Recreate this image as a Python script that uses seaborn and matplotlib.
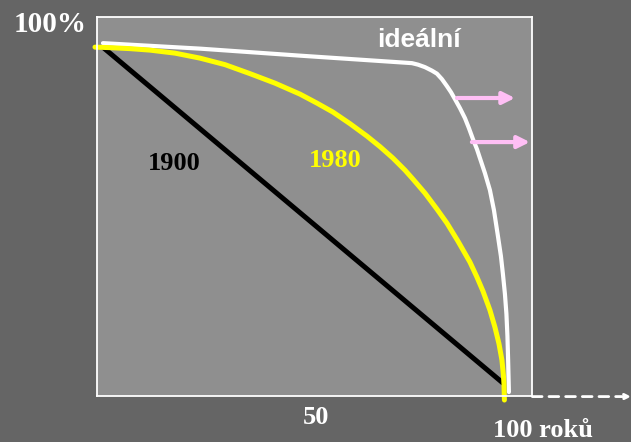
import matplotlib
matplotlib.use("Agg")
import matplotlib.pyplot as plt
import seaborn as sns

# roky a procento přežívajících
roky_1900 = [0.7, 100.0]
pct_1900 = [99.4, 0.3]

roky_1980 = [-1.24, 2.48, 7.44, 12.41, 18.61, 24.81, 31.02, 37.22, 43.42, 49.63,
             53.85, 57.82, 62.03, 66.25, 69.48, 72.70, 75.68, 77.67, 80.65, 83.62,
             86.10, 88.83, 91.81, 93.55, 95.04, 96.77, 98.01, 99.01, 99.75, 100.12,
             100.25, 100.37]
pct_1980 = [99.41, 99.26, 98.97, 98.53, 97.64, 96.17, 94.25, 91.59, 88.79, 85.55,
            82.89, 80.24, 76.84, 73.16, 70.06, 66.67, 63.13, 60.47, 56.34, 51.62,
            47.49, 42.18, 35.99, 31.56, 27.43, 21.83, 16.81, 11.95, 7.08, 2.65,
            0.29, -4.72]

roky_idealni = [0.74, 24.81, 49.63, 77.42, 78.91, 80.65, 82.38, 83.62, 84.86, 86.10,
                87.10, 88.09, 89.33, 90.57, 91.56, 92.56, 93.55, 94.29, 95.53, 96.77,
                97.77, 98.76, 99.50, 100.0, 100.50, 100.87, 101.12, 101.29, 101.49]
pct_idealni = [100.59, 98.97, 96.90, 94.69, 94.25, 93.51, 92.48, 91.59, 89.97, 87.91,
               86.14, 84.07, 81.42, 78.47, 75.52, 72.27, 69.32, 66.67, 62.24, 57.23,
               51.33, 43.66, 37.76, 32.45, 26.55, 20.65, 14.16, 7.08, -2.36]

# posun křivky doprava (šipky)
sipky_od = [(88.6, 84.4), (92.3, 71.4)]
sipky_do = [(103.0, 84.4), (106.7, 71.4)]

bg = "#656565"
plocha = "#8f8f8f"

sns.set_theme(style="white")
fig = plt.figure(figsize=(6.31, 4.42), dpi=100, facecolor=bg)
ax = fig.add_axes([0.1545, 0.104, 0.6885, 0.8575])
ax.set_facecolor(plocha)

styl = dict(sort=False, estimator=None, ax=ax, solid_joinstyle="round")
sns.lineplot(x=roky_1900, y=pct_1900, color="black", lw=3.6, **styl)
sns.lineplot(x=roky_idealni, y=pct_idealni, color="white", lw=3.0, **styl)
l = sns.lineplot(x=roky_1980, y=pct_1980, color="#ffff00", lw=3.6, **styl)
l.lines[-1].set_clip_on(False)

for a, b in zip(sipky_od, sipky_do):
    ax.annotate("", xy=b, xytext=a, annotation_clip=False,
                arrowprops=dict(arrowstyle="-|>", color="#ffbff5", lw=3,
                                mutation_scale=18, shrinkA=0, shrinkB=0))

# čárkovaná šipka za osou x
ax.annotate("", xy=(131.8, -3.7), xytext=(107.3, -3.7), annotation_clip=False,
            arrowprops=dict(arrowstyle="-|>", color="white", lw=2,
                            linestyle=(0, (3.5, 2.5)), mutation_scale=8,
                            shrinkA=0, shrinkB=0))

ax.set_xlim(-0.62, 107.2)
ax.set_ylim(-3.54, 108.3)
ax.set_xticks([])
ax.set_yticks([])
for s in ax.spines.values():
    s.set_color("white")
    s.set_linewidth(1.3)

serif = dict(family="Liberation Serif", weight="bold", ha="center", va="center")
ax.text(-12.4, 106.2, "100%", color="white", fontsize=21, clip_on=False, **serif)
ax.text(18.4, 65.2, "1900", color="black", fontsize=19, **serif)
ax.text(58.3, 66.1, "1980", color="#ffff00", fontsize=19, **serif)
ax.text(53.6, -10.0, "50", color="white", fontsize=19, clip_on=False, **serif)
ax.text(109.9, -13.6, "100 roků", color="white", fontsize=19, clip_on=False, **serif)
ax.text(79.2, 101.5, "ideální", color="white", fontsize=19, family="Liberation Sans",
        weight="bold", ha="center", va="center")

fig.savefig("out.png", dpi=100, facecolor=bg)
